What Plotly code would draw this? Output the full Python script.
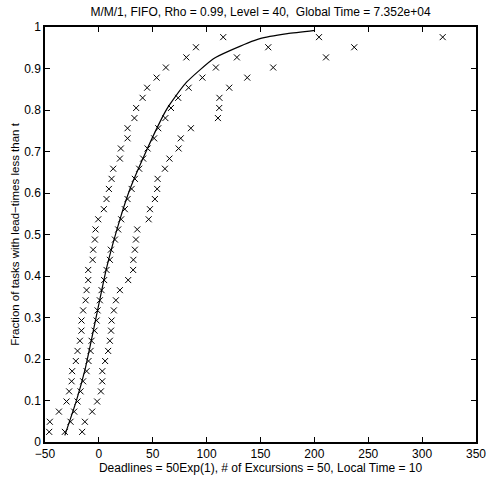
import plotly.graph_objects as go

# Empirical fractions (k/41, k = 1..40) shared by all three marker series
fraction = [0.0244, 0.0488, 0.0732, 0.0976, 0.1220, 0.1463, 0.1707, 0.1951, 0.2195, 0.2439,
            0.2683, 0.2927, 0.3171, 0.3415, 0.3659, 0.3902, 0.4146, 0.4390, 0.4634, 0.4878,
            0.5122, 0.5366, 0.5610, 0.5854, 0.6098, 0.6341, 0.6585, 0.6829, 0.7073, 0.7317,
            0.7561, 0.7805, 0.8049, 0.8293, 0.8537, 0.8780, 0.9024, 0.9268, 0.9512, 0.9756]

lead_left = [-46.1, -45.5, -37.1, -30.0, -27.6, -25.3, -24.8, -21.4, -19.8, -17.6,
             -16.2, -16.1, -14.6, -12.3, -11.4, -9.9, -9.9, -5.8, -5.3, -3.7,
             -3.1, -0.6, 4.6, 7.1, 9.3, 11.8, 13.3, 19.5, 20.4, 26.6,
             26.6, 33.0, 34.6, 40.6, 44.8, 53.6, 62.2, 81.2, 90.1, 115.4]

lead_mid = [-31.6, -26.3, -22.9, -19.8, -17.0, -14.6, -11.4, -9.6, -7.7, -6.8,
            -4.0, -2.1, -1.2, 0.9, 2.5, 4.9, 7.1, 10.2, 11.1, 14.9,
            17.9, 20.7, 24.1, 26.6, 30.4, 33.4, 37.4, 41.1, 45.2, 51.3,
            55.1, 61.7, 66.9, 73.6, 83.3, 96.1, 108.6, 128.1, 157.2, 204.3]

lead_right = [-15.5, -13.0, -6.2, -1.6, 1.9, 3.1, 3.2, 5.8, 8.6, 10.2,
              11.3, 11.8, 13.9, 15.8, 19.5, 27.2, 31.8, 32.0, 33.4, 34.4,
              35.6, 46.2, 47.4, 52.0, 54.1, 54.5, 61.3, 65.5, 74.0, 76.0,
              85.4, 110.5, 111.7, 111.9, 121.0, 137.7, 161.8, 210.8, 237.0, 319.1]

# Solid reference curve
curve_t = [-31.6, -20.7, -13.0, -5.3, 7.1, 19.5, 28.8, 44.3, 58.0, 63.0, 66.0,
           81.4, 106.0, 121.6, 149.5, 175.0, 200.6]
curve_f = [0.016, 0.101, 0.173, 0.266, 0.419, 0.536, 0.609, 0.703, 0.778, 0.802, 0.814,
           0.867, 0.923, 0.943, 0.972, 0.984, 0.992]

x_ticks = [-50, 0, 50, 100, 150, 200, 250, 300, 350]
y_ticks = [0, 0.1, 0.2, 0.3, 0.4, 0.5, 0.6, 0.7, 0.8, 0.9, 1]
y_tick_labels = ["0", "0.1", "0.2", "0.3", "0.4", "0.5", "0.6", "0.7", "0.8", "0.9", "1"]

title_text = "M/M/1, FIFO, Rho = 0.99, Level = 40,  Global Time = 7.352e+04"
x_title = "Deadlines = 50Exp(1), # of Excursions = 50, Local Time = 10"
y_title = "Fraction of tasks with lead\u2212times less than t"

FONT = "Liberation Sans, Arial, Helvetica, sans-serif"

fig = go.Figure()
marker_style = dict(symbol="x-thin-open", size=6, color="black", line=dict(color="black", width=1))
for xs in (lead_left, lead_mid, lead_right):
    fig.add_trace(go.Scatter(x=xs, y=fraction, mode="markers", marker=marker_style,
                             showlegend=False, hoverinfo="skip"))
fig.add_trace(go.Scatter(x=curve_t, y=curve_f, mode="lines",
                         line=dict(color="black", width=1.2, shape="spline", smoothing=0.5),
                         showlegend=False, hoverinfo="skip"))

axis_common = dict(showline=True, linecolor="black", linewidth=1.5, mirror="ticks",
                   ticks="inside", ticklen=5, tickwidth=1, tickcolor="black",
                   showgrid=False, zeroline=False, automargin=False,
                   tickfont=dict(family=FONT, size=12, color="black"))

fig.update_layout(
    width=488, height=485,
    margin=dict(l=45, r=12, t=27, b=43, autoexpand=False),
    paper_bgcolor="white", plot_bgcolor="white",
    font=dict(family=FONT, size=12, color="black"),
    title=dict(text=title_text, x=0.5, xref="paper", y=1 - 12 / 485, yref="container",
               yanchor="middle", xanchor="center", automargin=False,
               font=dict(family=FONT, size=12, color="black")),
    xaxis=dict(range=[-50, 350], tickvals=x_ticks,
               title=dict(text=x_title, standoff=2, font=dict(family=FONT, size=12)),
               **axis_common),
    yaxis=dict(range=[0, 1], tickvals=y_ticks, ticktext=y_tick_labels,
               title=dict(text=y_title, standoff=2, font=dict(family=FONT, size=11.5)),
               **axis_common),
)

fig.write_html("out.html", config={"displayModeBar": False},
               post_script="document.body.style.margin='0';")
